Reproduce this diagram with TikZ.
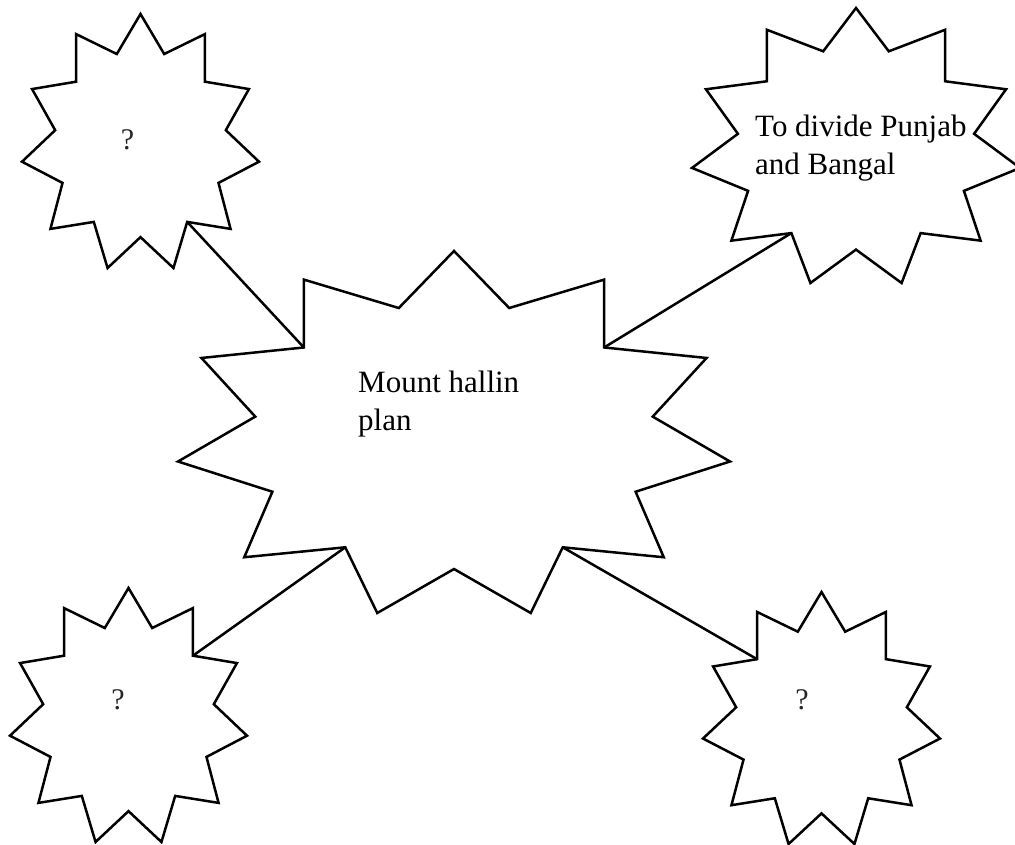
\documentclass[tikz,border=0pt]{standalone}
\usepackage{fontspec}
\setmainfont{Liberation Serif}
\tikzset{
  burst/.style={draw=black, line width=2.5pt, line join=miter, fill=white},
  link/.style={draw=black, line width=2.5pt},
  lbl/.style={inner sep=0pt, align=left, font=\fontsize{31}{37.5}\selectfont},
  qmark/.style={inner sep=0pt, font=\fontsize{30}{36}\selectfont, text=black!85}
}
\newcommand\burstshape[5]{%
\begin{scope}[shift={(#2,#3)},xscale=#4,yscale=#5]
\path[burst] (0,-1) coordinate (#1-0)
 -- (0.2,-0.685) coordinate (#1-1)
 -- (0.544,-0.842) coordinate (#1-2)
 -- (0.544,-0.467) coordinate (#1-3)
 -- (0.915,-0.409) coordinate (#1-4)
 -- (0.72,-0.085) coordinate (#1-5)
 -- (1,0.163) coordinate (#1-6)
 -- (0.658,0.33) coordinate (#1-7)
 -- (0.76,0.692) coordinate (#1-8)
 -- (0.394,0.637) coordinate (#1-9)
 -- (0.278,1) coordinate (#1-10)
 -- (0,0.757) coordinate (#1-11)
 -- (-0.278,1) coordinate (#1-12)
 -- (-0.394,0.637) coordinate (#1-13)
 -- (-0.76,0.692) coordinate (#1-14)
 -- (-0.658,0.33) coordinate (#1-15)
 -- (-1,0.163) coordinate (#1-16)
 -- (-0.72,-0.085) coordinate (#1-17)
 -- (-0.915,-0.409) coordinate (#1-18)
 -- (-0.544,-0.467) coordinate (#1-19)
 -- (-0.544,-0.842) coordinate (#1-20)
 -- (-0.2,-0.685) coordinate (#1-21)
 -- cycle;
\end{scope}}
\begin{document}
\begin{tikzpicture}[x=1pt,y=-1pt]
\useasboundingbox (0,0) rectangle (1015,844);
\fill[white] (0,0) rectangle (1015,844);
% stars
\burstshape{tl}{140.5}{141}{118.5}{127}
\burstshape{tr}{856}{145.5}{164}{137.5}
\burstshape{c}{454}{432}{276}{181}
\burstshape{bl}{128.5}{715}{118.5}{127}
\burstshape{br}{821.5}{718}{118.5}{126}
% connectors
\draw[link] (tl-9) -- (c-19);
\draw[link] (tr-13) -- (c-3);
\draw[link] (bl-3) -- (c-13);
\draw[link] (c-9) -- (br-19);
% labels
\node[qmark, anchor=base] (tlq) at (127.5,149) {?};
\node[qmark, anchor=base] (blq) at (118,709) {?};
\node[qmark, anchor=base] (brq) at (802,709) {?};
\node[lbl, anchor=base west] (trtext) at (755,174) {To divide Punjab\\and Bangal};
\node[lbl, anchor=base west] (ctext) at (358,430) {Mount hallin\\plan};
\end{tikzpicture}
\end{document}
